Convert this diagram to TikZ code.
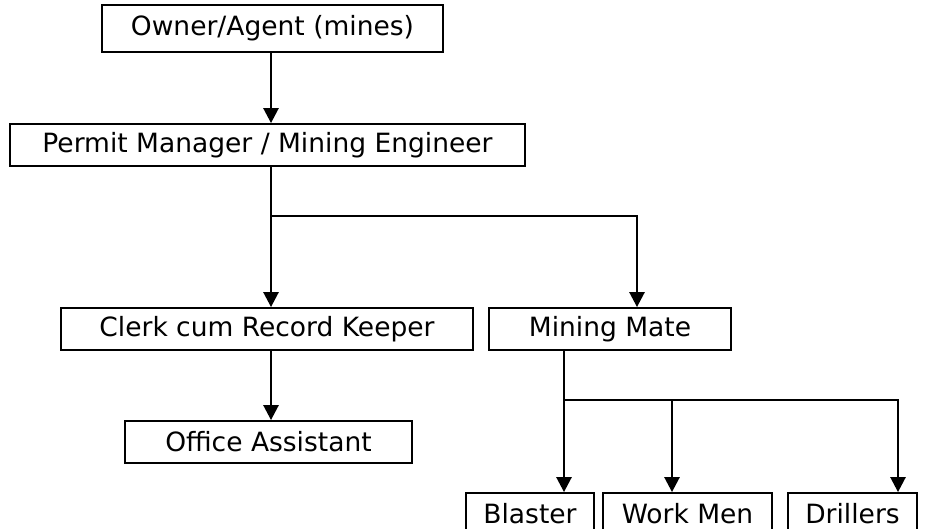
\documentclass[tikz,border=0pt]{standalone}
\usepackage{fontspec}
\setmainfont{DejaVu Sans}
\usetikzlibrary{arrows.meta}
\begin{document}
\begin{tikzpicture}[x=1pt, y=-1pt,
    poste/.style={draw, line width=1.8pt, inner sep=0pt, minimum height=42pt,
      font=\fontsize{26.5}{30}\selectfont},
    trait/.style={line width=2.6pt},
    lien/.style={trait, -{Triangle[width=15pt, length=15pt]}}]
    % Cadre
    \clip (0,0) rectangle (933,529);

    % Postes
    \node[poste, minimum width=341pt, minimum height=47pt] (owner) at (272.5, 28.5) {Owner/Agent (mines)};
    \node[poste, minimum width=515pt] (permit) at (267.5, 145) {Permit Manager / Mining Engineer};
    \node[poste, minimum width=412pt] (clerk) at (267, 329) {Clerk cum Record Keeper};
    \node[poste, minimum width=242pt] (mate) at (610, 329) {Mining Mate};
    \node[poste, minimum width=287pt] (office) at (268.5, 442) {Office Assistant};
    \node[poste, minimum width=128pt] (blaster) at (530, 514) {Blaster};
    \node[poste, minimum width=169pt] (workmen) at (687.5, 514) {Work Men};
    \node[poste, minimum width=129pt] (drillers) at (852.5, 514) {Drillers};

    % Points de branchement
    \coordinate (branche1) at (271, 216);
    \coordinate (versmate) at (637, 216);
    \coordinate (branche2) at (564, 400);
    \coordinate (versworkmen) at (672, 400);
    \coordinate (versdrillers) at (898, 400);

    % Liens
    \draw[lien] (owner.south -| branche1) -- (permit.north -| branche1);
    \draw[lien] (permit.south -| branche1) -- (clerk.north -| branche1);
    \draw[lien] (branche1) -- (versmate) -- (mate.north -| versmate);
    \draw[lien] (clerk.south -| branche1) -- (office.north -| branche1);
    \draw[lien] (mate.south -| branche2) -- (blaster.north -| branche2);
    \draw[lien] (branche2) -- (versdrillers) -- (drillers.north -| versdrillers);
    \draw[lien] (versworkmen) -- (workmen.north -| versworkmen);
\end{tikzpicture}
\end{document}
